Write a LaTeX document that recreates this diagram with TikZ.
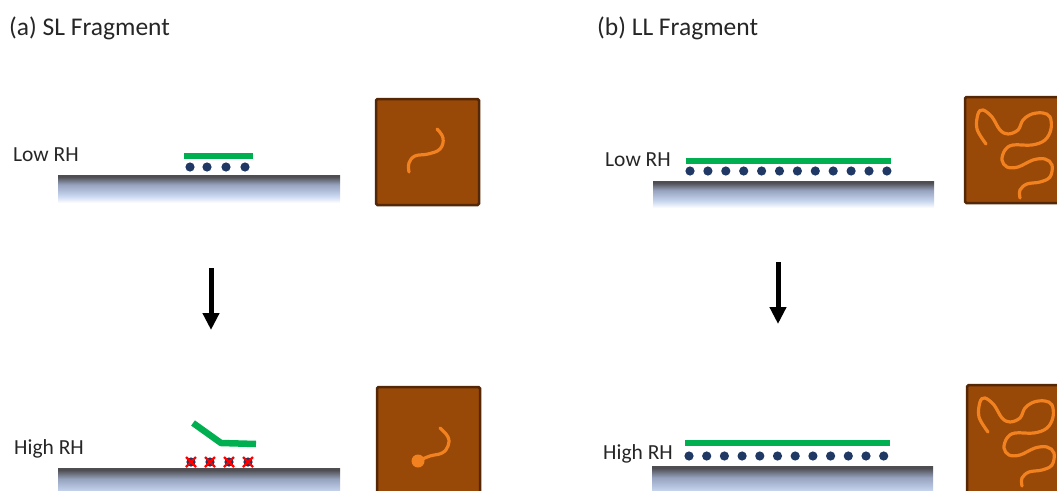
\documentclass[tikz,border=0pt]{standalone}
\usepackage{fontspec}
\setmainfont{Carlito}
\usetikzlibrary{arrows.meta}

\definecolor{filmgreen}{RGB}{0,176,80}
\definecolor{iondot}{RGB}{31,56,100}
\definecolor{soil}{RGB}{152,72,7}
\definecolor{soilrim}{RGB}{84,40,6}
\definecolor{chain}{RGB}{242,130,32}
\definecolor{slabdark}{RGB}{78,78,82}
\definecolor{slabmid}{RGB}{150,162,190}
\definecolor{slablight}{RGB}{200,214,240}
\pgfdeclareverticalshading{substrate}{100bp}{color(0bp)=(white); color(25bp)=(white); color(38bp)=(slablight); color(58bp)=(slabmid); color(72bp)=(slabdark); color(75bp)=(slabdark); color(100bp)=(slabdark)}

\begin{document}
\begin{tikzpicture}[x = 1pt, y = -1pt,
  word/.style = {anchor = base west, inner sep = 0pt, text = black!85, font = \fontsize{21.5}{24}\selectfont},
  heading/.style = {word, font = \fontsize{25.5}{28}\selectfont},
  slab/.style = {shading = substrate},
  film/.style = {draw = filmgreen, line width = 6.5pt},
  box/.style = {fill = soil, draw = soilrim, line width = 2.5pt, rounded corners = 1.5pt},
  chainline/.style = {draw = chain, line width = 3.2pt, line cap = round},
  cross/.style = {draw = red, line width = 2.2pt},
  flow/.style = {line width = 5pt, -{Triangle[width = 16pt, length = 17pt]}}]
\useasboundingbox (0,0) rectangle (1057,490);
\clip (0,0) rectangle (1057,490);

\node[heading] (titleA) at (9,35) {(a) SL Fragment};
\node[heading] (titleB) at (597,35) {(b) LL Fragment};

% (a) short fragment, low RH
\node[word] (lowA) at (13,161) {Low RH};
\shade[slab] (58,175) rectangle (340,203);
\draw[film] (184,156) -- (253,156);
\foreach \x in {190,207,226,245}
  \fill[iondot] (\x,167) circle (4.6);
\draw[box] (376,99) rectangle (479,205);
\draw[chainline] plot[smooth, tension = 0.7] coordinates {(409,172) (409,163) (415,156) (428,154) (440,149) (443,138) (437,129)};

\coordinate (arrA top) at (211,268);
\coordinate (arrA end) at (211,330);
\draw[flow] (arrA top) -- (arrA end);

% (a) short fragment, high RH
\node[word] (highA) at (14,454) {High RH};
\shade[slab] (58,468) rectangle (340,500);
\draw[film, line join = round] (193,423) -- (221,443) -- (256,444);
\foreach \x in {191,210,229,248} {
  \fill[iondot] (\x,462) circle (4.6);
  \draw[cross] (\x-5,457) -- (\x+5,467) (\x-5,467) -- (\x+5,457);
}
\draw[box] (377,387) rectangle (480,500);
\draw[chainline] plot[smooth, tension = 0.7] coordinates {(418,461) (430,456) (442,453) (448,446) (448,437) (440,428)};
\fill[chain] (418,461) circle (6.5);

% (b) long fragment, low RH
\node[word] (lowB) at (605,166) {Low RH};
\shade[slab] (653,181) rectangle (934,208);
\draw[film] (686,161) -- (891,161);
\foreach \i in {0,...,11}
  \fill[iondot] (690+17.9*\i,171) circle (4.6);
\draw[box] (965,97) rectangle (1070,203);
\draw[chainline] plot[smooth, tension = 0.6] coordinates {(986,144) (977,129) (978,114) (983,110) (992,117) (1000,130) (1008,134) (1018,130) (1023,120) (1032,114) (1043,113) (1050,117) (1051,129) (1045,140) (1032,145) (1013,145) (1005,150) (1002,160) (1007,167) (1018,167) (1033,160) (1045,159) (1052,165) (1050,177) (1040,182) (1027,184) (1020,190) (1020,198)};

\coordinate (arrB top) at (778,262);
\coordinate (arrB end) at (778,324);
\draw[flow] (arrB top) -- (arrB end);

% (b) long fragment, high RH
\node[word] (highB) at (603,459) {High RH};
\shade[slab] (652,466) rectangle (933,500);
\draw[film] (685,443) -- (890,443);
\foreach \i in {0,...,11}
  \fill[iondot] (689+17.7*\i,456) circle (4.6);
\draw[box] (967,385) rectangle (1072,500);
\draw[chainline] plot[smooth, tension = 0.6] coordinates {(988,432) (979,417) (980,402) (985,398) (994,405) (1002,418) (1010,422) (1020,418) (1025,408) (1034,402) (1045,401) (1052,405) (1053,417) (1047,428) (1034,433) (1015,433) (1007,438) (1004,448) (1009,455) (1020,455) (1035,448) (1047,447) (1054,453) (1052,465) (1042,470) (1029,472) (1022,478) (1022,486)};
\end{tikzpicture}
\end{document}
